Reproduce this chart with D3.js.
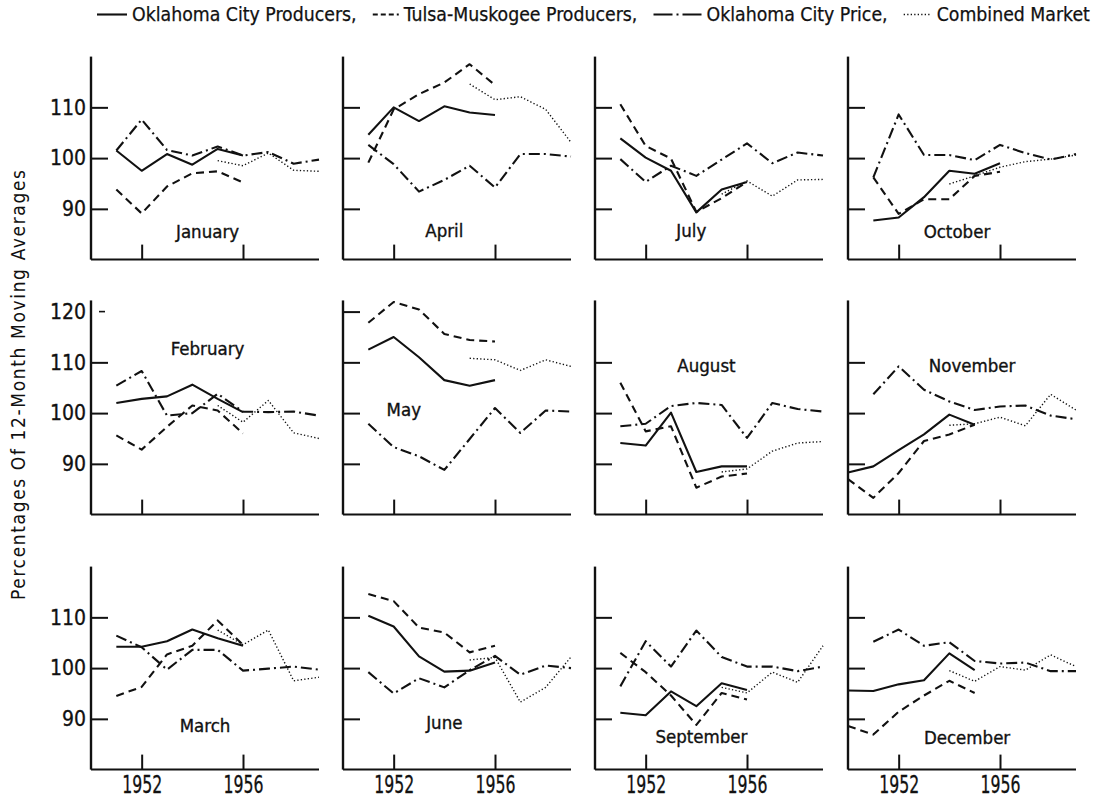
<!DOCTYPE html>
<html lang="en">
<head>
<meta charset="utf-8">
<title>Seasonal indexes, Oklahoma markets</title>
<script src="https://d3js.org/d3.v7.min.js"></script>
<style>
  body { margin: 0; background: #fff; }
  text { font-family: "DejaVu Sans Condensed", "Liberation Sans Narrow", sans-serif; fill: #111; }
</style>
</head>
<body>
<script>
var width = 1093, height = 798;

// years on the x axis, one slot per year
var years = [1950, 1951, 1952, 1953, 1954, 1955, 1956, 1957, 1958, 1959];
var months = ["January", "February", "March", "April", "May", "June",
              "July", "August", "September", "October", "November", "December"];
var yTicks = [90, 100, 110];
var xTicks = [1952, 1956];

// percentages of 12-month moving averages (null = no value)
var okcProducers = [
  [null, 101.5, 97.5, 100.8, 98.7, 101.8, 100.5, null, null, null],
  [null, 102.0, 102.8, 103.3, 105.6, 102.8, 100.2, null, null, null],
  [null, 104.2, 104.2, 105.3, 107.6, 105.9, 104.4, null, null, null],
  [null, 104.6, 110.0, 107.3, 110.2, 109.0, 108.5, null, null, null],
  [null, 112.5, 115.0, 111.0, 106.5, 105.4, 106.5, null, null, null],
  [null, 110.3, 108.2, 102.3, 99.3, 99.5, 101.1, null, null, null],
  [null, 103.9, 100.1, 97.5, 89.3, 93.8, 95.3, null, null, null],
  [null, 94.1, 93.6, 100.1, 88.4, 89.5, 89.5, null, null, null],
  [null, 91.2, 90.7, 95.4, 92.5, 97.0, 95.7, null, null, null],
  [null, 87.7, 88.3, 92.3, 97.5, 96.9, 99.0, null, null, null],
  [88.3, 89.5, 92.7, 95.8, 99.7, 97.7, null, null, null, null],
  [95.6, 95.5, 96.8, 97.6, 102.9, 99.6, null, null, null, null]
];
var tulsaProducers = [
  [null, 93.8, 89.1, 94.4, 97.0, 97.4, 95.2, null, null, null],
  [null, 95.6, 92.8, 97.3, 101.5, 100.5, 96.0, null, null, null],
  [null, 94.5, 96.3, 102.7, 104.4, 109.4, 104.6, null, null, null],
  [null, 99.1, 109.6, 112.6, 114.9, 118.5, 114.4, null, null, null],
  [null, 117.8, 121.9, 120.4, 115.6, 114.4, 114.1, null, null, null],
  [null, 114.6, 113.2, 108.0, 107.0, 103.1, 104.4, null, null, null],
  [null, 110.6, 102.4, 99.9, 89.4, 92.1, 95.3, null, null, null],
  [null, 106.0, 96.4, 97.4, 85.3, 87.5, 88.1, null, null, null],
  [null, 103.0, 99.2, 94.6, 88.8, 95.1, 93.8, null, null, null],
  [null, 96.2, 89.0, 91.9, 91.9, 96.5, 97.3, null, null, null],
  [87.0, 83.3, 88.2, 94.5, 95.8, 97.7, null, null, null, null],
  [88.6, 86.9, 91.4, 94.6, 97.5, 95.1, null, null, null, null]
];
var okcPrice = [
  [null, 101.5, 107.6, 101.6, 100.5, 102.3, 100.5, 101.2, 98.9, 99.7],
  [null, 105.4, 108.3, 99.5, 100.0, 103.8, 100.3, 100.2, 100.3, 99.5],
  [null, 106.4, 104.1, 99.7, 103.6, 103.6, 99.5, 99.9, 100.3, 99.7],
  [null, 102.6, 98.8, 93.4, 95.7, 98.5, 94.2, 100.8, 100.8, 100.3],
  [null, 97.9, 93.3, 91.5, 88.8, 94.9, 101.0, 96.1, 100.5, 100.3],
  [null, 99.2, 95.0, 98.0, 96.2, 99.6, 102.4, 98.7, 100.5, 100.0],
  [null, 99.8, 95.3, 98.5, 96.5, 99.7, 102.9, 99.0, 101.1, 100.5],
  [null, 97.4, 97.9, 101.4, 102.0, 101.6, 95.1, 102.0, 100.8, 100.3],
  [null, 96.4, 105.3, 100.3, 107.4, 102.2, 100.3, 100.3, 99.4, 100.3],
  [null, 96.2, 108.6, 100.6, 100.6, 99.6, 102.6, 101.0, 99.7, 100.8],
  [null, 103.7, 109.2, 104.6, 102.3, 100.6, 101.3, 101.5, 99.5, 98.8],
  [null, 105.2, 107.6, 104.4, 105.1, 101.4, 100.9, 101.1, 99.4, 99.4]
];
var combined = [
  [null, null, null, null, null, 99.5, 98.5, 101.0, 97.6, 97.4],
  [null, null, null, null, null, 101.5, 98.2, 102.5, 96.1, 95.0],
  [null, null, null, null, null, 107.5, 104.6, 107.5, 97.5, 98.2],
  [null, null, null, null, null, 114.6, 111.5, 112.1, 109.6, 103.1],
  [null, null, null, null, null, 110.8, 110.5, 108.4, 110.5, 109.2],
  [null, null, null, null, null, 101.6, 102.1, 93.3, 96.2, 102.2],
  [null, null, null, null, null, 92.9, 95.5, 92.5, 95.7, 95.8],
  [null, null, null, null, null, 88.4, 89.0, 92.5, 94.1, 94.4],
  [null, null, null, null, null, 96.2, 95.1, 99.2, 97.2, 104.4],
  [null, null, null, null, 94.9, 96.5, 98.2, 99.3, 99.8, 100.6],
  [null, null, null, null, 97.6, 97.9, 99.2, 97.5, 103.7, 100.6],
  [null, null, null, null, 99.5, 97.4, 100.3, 99.6, 102.6, 100.3]
];

// where each month name sits, in chart units (year, percent)
var labelAt = [
  [1954.6, 84.2], [1954.6, 111.4], [1954.5, 87.4],
  [1954.0, 84.4], [1952.4, 99.4], [1954.0, 88.0],
  [1953.8, 84.4], [1954.4, 108.1], [1954.2, 85.2],
  [1954.3, 84.2], [1954.9, 108.1], [1954.7, 85.0]
];

var series = [
  {name: "Oklahoma City Producers,", values: okcProducers, dash: null, w: 2.1, key: 30, keyDash: null},
  {name: "Tulsa-Muskogee Producers,", values: tulsaProducers, dash: "8,5", w: 2.1, key: 26, keyDash: "5,3"},
  {name: "Oklahoma City Price,", values: okcPrice, dash: "11,4,2,4", w: 2.1, key: 48, keyDash: "19,4,2,4"},
  {name: "Combined Market", values: combined, dash: "1.3,2.2", w: 1.4, key: 28, keyDash: "1.3,2.2"}
];

var svg = d3.select("body").append("svg")
    .attr("width", width)
    .attr("height", height);

var colX = [91, 343, 595, 848],
    rowTop = [56.6, 311.6, 566.6],
    panelW = 228,
    panelH = 203;

var x = d3.scaleLinear().domain([1950, 1959]).range([0, panelW]);
var y = d3.scaleLinear().domain([80, 120]).range([panelH, 0]);

var line = d3.line()
    .defined(function(d) { return d[1] != null; })
    .x(function(d) { return x(d[0]); })
    .y(function(d) { return y(d[1]); });

months.forEach(function(m, i) {
  var col = Math.floor(i / 3), row = i % 3;
  var g = svg.append("g")
      .attr("transform", "translate(" + colX[col] + "," + rowTop[row] + ")");

  // axis frame: left and bottom only
  g.append("line")
      .attr("x1", 0).attr("x2", 0)
      .attr("y1", y(80)).attr("y2", row == 1 ? y(122.2) : y(120))
      .attr("stroke", "#111").attr("stroke-width", 2.4);
  g.append("line")
      .attr("x1", 0).attr("x2", panelW)
      .attr("y1", y(80)).attr("y2", y(80))
      .attr("stroke", "#111").attr("stroke-width", 2);

  // inward ticks
  var tv = yTicks.slice();
  if (row == 1 && col == 1) tv.push(120);
  var ya = g.append("g").call(d3.axisRight(y).tickValues(tv).tickSize(17).tickFormat(""));
  ya.select(".domain").remove();
  ya.selectAll("line").attr("stroke", "#111").attr("stroke-width", 2);

  var xa = g.append("g")
      .attr("transform", "translate(0," + y(80) + ")")
      .call(d3.axisTop(x).tickValues(xTicks).tickSize(15).tickFormat(""));
  xa.select(".domain").remove();
  xa.selectAll("line").attr("stroke", "#111").attr("stroke-width", 2);

  if (col == 0) {
    var lv = yTicks.slice();
    if (row == 1) lv.push(120);
    var yl = g.append("g").call(d3.axisLeft(y).tickValues(lv).tickSize(0).tickPadding(5));
    yl.select(".domain").remove();
    yl.selectAll("text").attr("font-size", 21).attr("fill", "#111")
        .attr("stroke", "#111").attr("stroke-width", 0.3)
        .style("font-family", "'DejaVu Sans Condensed', sans-serif");
    if (row == 1) {
      // the short mark after "120"
      g.append("line")
          .attr("x1", 8).attr("x2", 14)
          .attr("y1", y(120)).attr("y2", y(120))
          .attr("stroke", "#111").attr("stroke-width", 1.6);
    }
  }

  if (row == 2) {
    var xl = g.append("g")
        .attr("transform", "translate(0," + y(80) + ")")
        .call(d3.axisBottom(x).tickValues(xTicks).tickSize(0).tickPadding(6).tickFormat(d3.format("d")));
    xl.select(".domain").remove();
    xl.selectAll("text").attr("font-size", 25).attr("fill", "#111")
        .attr("stroke", "#111").attr("stroke-width", 0.3)
        .attr("textLength", 40).attr("lengthAdjust", "spacingAndGlyphs")
        .style("font-family", "'DejaVu Sans Condensed', sans-serif");
  }

  series.forEach(function(s) {
    var pts = years.map(function(yr, k) { return [yr, s.values[i][k]]; });
    g.append("path")
        .datum(pts)
        .attr("d", line)
        .attr("fill", "none")
        .attr("stroke", "#111")
        .attr("stroke-width", s.w)
        .attr("stroke-linejoin", "round")
        .attr("stroke-dasharray", s.dash);
  });

  g.append("text")
      .attr("x", x(labelAt[i][0]))
      .attr("y", y(labelAt[i][1]))
      .attr("text-anchor", "middle")
      .attr("font-size", 18.5)
      .attr("stroke", "#111").attr("stroke-width", 0.35)
      .text(m);
});

// legend across the top, flowed from x=97 so that it ends near the right edge
var legend = svg.append("g");
var legendStart = 97, legendEnd = 1090, legendSize = 16;
var texts = series.map(function(s) {
  return legend.append("text").attr("y", 21).attr("font-size", legendSize)
      .attr("stroke", "#111").attr("stroke-width", 0.25).text(s.name);
});
var textW = texts.map(function(t) { return t.node().getComputedTextLength(); });
var fixedW = d3.sum(series, function(s) { return s.key; }) + 4 * 5 + 3 * 16;
var k = (legendEnd - legendStart - fixedW) / d3.sum(textW);
var cx = legendStart;
series.forEach(function(s, j) {
  legend.append("line")
      .attr("x1", cx).attr("x2", cx + s.key)
      .attr("y1", 14.5).attr("y2", 14.5)
      .attr("stroke", "#111")
      .attr("stroke-width", s.w)
      .attr("stroke-dasharray", s.keyDash);
  cx += s.key + 5;
  texts[j].attr("x", cx).attr("font-size", legendSize * k);
  cx += textW[j] * k + 16;
});

svg.append("text")
    .attr("transform", "translate(25,385) rotate(-90)")
    .attr("text-anchor", "middle")
    .attr("font-size", 19)
    .attr("textLength", 430).attr("lengthAdjust", "spacing")
    .text("Percentages Of 12-Month Moving Averages");
</script>
</body>
</html>
